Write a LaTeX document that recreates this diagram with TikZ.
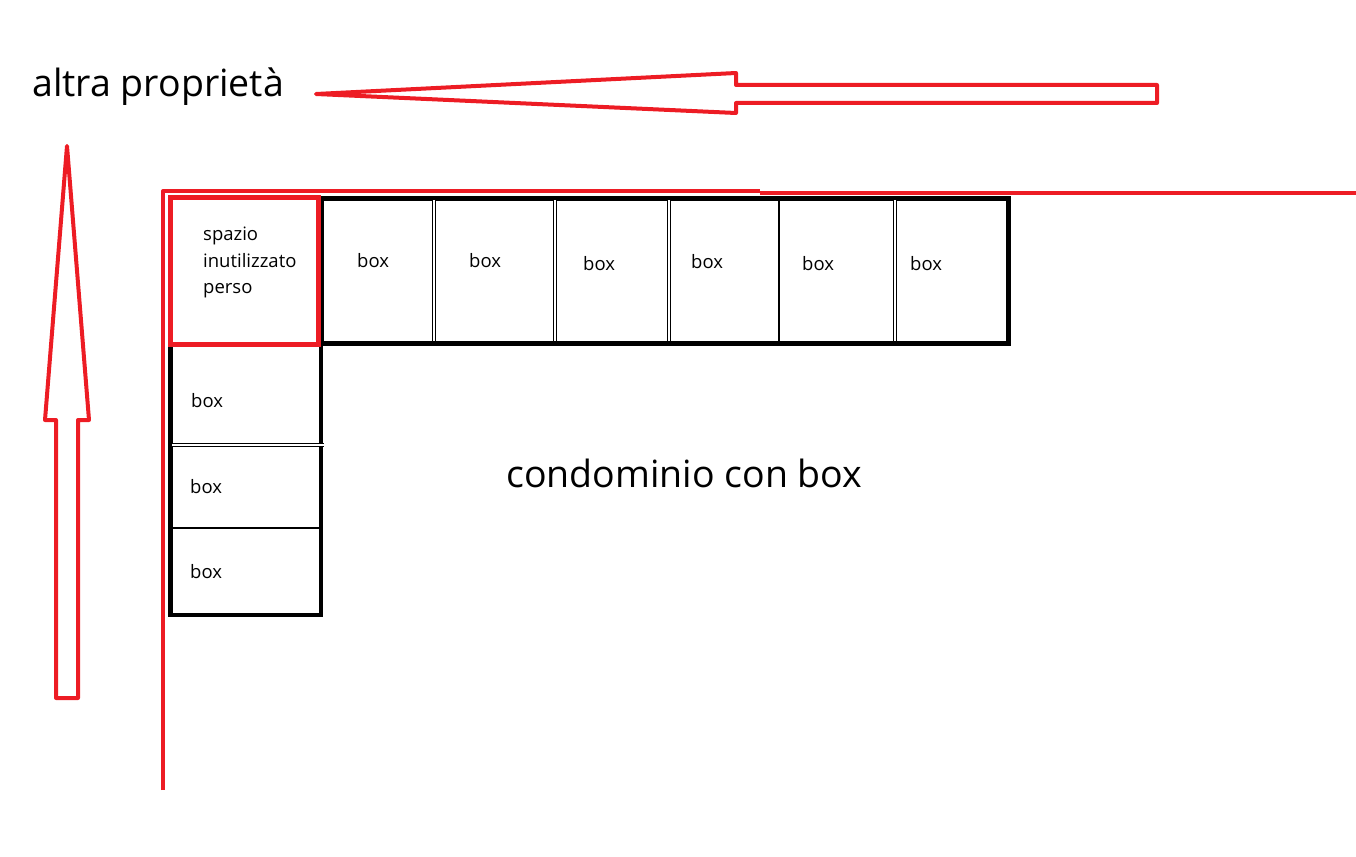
\documentclass[tikz,border=0pt]{standalone}
\usepackage{fontspec}
\setmainfont{Open Sans}
\definecolor{pred}{HTML}{ED1C24}
\tikzset{
  redline/.style={draw=pred, line width=4pt, line join=round},
  blackedge/.style={draw=black, line width=5pt},
  dbl/.style={draw=black, double=white, line width=0.9pt, double distance=1.6pt},
  sgl/.style={draw=black, line width=2.5pt},
  boxlbl/.style={anchor=base west, inner sep=0pt, font=\fontsize{18.5}{22}\selectfont},
  biglbl/.style={anchor=base west, inner sep=0pt, font=\fontsize{37.5}{45}\selectfont}
}
\begin{document}
\begin{tikzpicture}[x=1pt,y=-1pt]
\useasboundingbox (0,0) rectangle (1356,856);
% black boxes
\draw[blackedge] (321,198) rectangle (1008,343);
\draw[blackedge, line width=4.5pt] (170.5,343) -- (170.5,615) -- (321,615) -- (321,343);
\foreach \x in {434,555,669,895} \draw[dbl] (\x,200) -- (\x,341);
\draw[sgl] (779,200) -- (779,341);
\draw[dbl] (172,445) -- (324,445);
\draw[black, line width=2pt] (172,528) -- (319,528);
% red box
\draw[draw=pred, line width=5pt] (170.5,197.5) rectangle (318,344);
% red L
\draw[redline] (163,790) -- (163,191) -- (760,191);
\draw[redline] (760,192.5) -- (1356,192.5);
% arrows
\draw[redline] (67,146) -- (89,420) -- (78,420) -- (78,698) -- (56,698) -- (56,420) -- (45,420) -- cycle;
\draw[redline] (316,94) -- (736,73) -- (736,85) -- (1157,85) -- (1157,103) -- (736,103) -- (736,113) -- cycle;
% texts
\node[biglbl] (altra) at (32,97) {altra proprietà};
\node[biglbl] (cond) at (506,487) {condominio con box};
\node[boxlbl] (sp1) at (203,240) {spazio};
\node[boxlbl] (sp2) at (203,267) {inutilizzato};
\node[boxlbl] (sp3) at (203,293) {perso};
\node[boxlbl] (b1) at (357,267) {box};
\node[boxlbl] (b2) at (469,267) {box};
\node[boxlbl] (b3) at (583,270) {box};
\node[boxlbl] (b4) at (691,268) {box};
\node[boxlbl] (b5) at (802,270) {box};
\node[boxlbl] (b6) at (910,270) {box};
\node[boxlbl] (c1) at (191,407) {box};
\node[boxlbl] (c2) at (190,493) {box};
\node[boxlbl] (c3) at (190,578) {box};
\end{tikzpicture}
\end{document}
